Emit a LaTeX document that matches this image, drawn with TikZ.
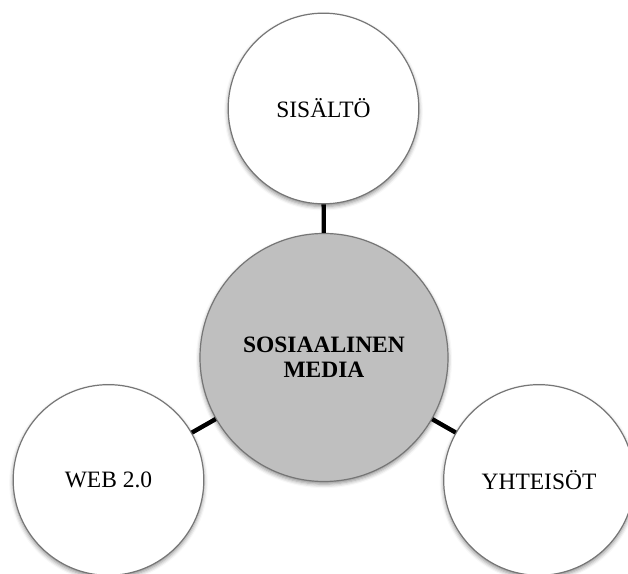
\documentclass[tikz,border=0pt]{standalone}
\usepackage{fontspec}
\setmainfont{Liberation Serif}
\usetikzlibrary{calc,shadows.blur}
\definecolor{MediaGray}{HTML}{BFBFBF}
\definecolor{RimGray}{HTML}{767676}
\tikzset{
  hub/.style={circle,draw=RimGray,line width=0.9pt,fill=MediaGray,
    minimum size=186pt,inner sep=0pt,align=center,
    font=\bfseries\fontsize{17.6}{18.8}\selectfont,
    blur shadow={shadow xshift=0pt,shadow yshift=-2pt,
      shadow blur radius=3pt,shadow opacity=45}},
  spoke/.style={circle,draw=RimGray,line width=0.9pt,fill=white,
    minimum size=143pt,inner sep=0pt,align=center,
    font=\fontsize{17.6}{18.8}\selectfont,
    blur shadow={shadow xshift=0pt,shadow yshift=-2pt,
      shadow blur radius=3pt,shadow opacity=45}},
  tie/.style={black,line width=3.3pt}
}

\begin{document}
\begin{tikzpicture}[x=0.75pt,y=0.75pt]

        \useasboundingbox (0,0) rectangle (628,574);

        \node[hub] (media) at (324,216.5) {SOSIAALINEN\\MEDIA};

        \node[spoke] (sisalto) at (323.5,465.5) {SISÄLTÖ};

        \node[spoke] (web) at (108.5,94) {WEB 2.0};

        \node[spoke] (yhteisot) at (539,94) {YHTEISÖT};

        \draw[tie] (media) -- (sisalto);
        \draw[tie] (media) -- (web);
        \draw[tie] (media) -- (yhteisot);

      \end{tikzpicture}
\end{document}
